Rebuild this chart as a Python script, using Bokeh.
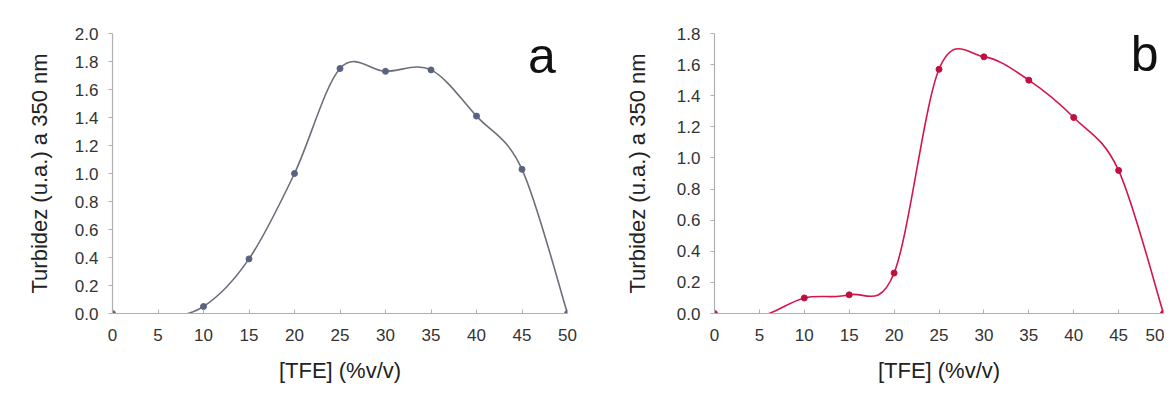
import numpy as np
from bokeh.plotting import figure
from bokeh.layouts import row
from bokeh.models import FixedTicker, PrintfTickFormatter, Label, Range1d
from bokeh.embed import file_html
from bokeh.resources import INLINE

# ---- data ----
tfe = [0, 5, 10, 15, 20, 25, 30, 35, 40, 45, 50]
turb_a = [0.0, -0.03, 0.05, 0.39, 1.00, 1.75, 1.73, 1.74, 1.41, 1.03, 0.0]
turb_b = [0.0, -0.02, 0.10, 0.12, 0.26, 1.57, 1.65, 1.50, 1.26, 0.92, 0.0]
x_ticks = [0, 5, 10, 15, 20, 25, 30, 35, 40, 45, 50]
y_ticks_a = [0.0, 0.2, 0.4, 0.6, 0.8, 1.0, 1.2, 1.4, 1.6, 1.8, 2.0]
y_ticks_b = [0.0, 0.2, 0.4, 0.6, 0.8, 1.0, 1.2, 1.4, 1.6, 1.8]
x_title = "[TFE] (%v/v)"
y_title = "Turbidez (u.a.) a 350 nm"
panel_labels = ["a", "b"]

FONT = "Liberation Sans"


def bezier_segments(xs, ys):
    x = np.asarray(xs, float)
    y = np.asarray(ys, float)
    n = len(x)
    out = {k: [] for k in ("x0", "y0", "x1", "y1", "cx0", "cy0", "cx1", "cy1")}
    for i in range(n - 1):
        im = max(i - 1, 0)
        ip = min(i + 2, n - 1)
        out["x0"].append(x[i]); out["y0"].append(y[i])
        out["x1"].append(x[i + 1]); out["y1"].append(y[i + 1])
        out["cx0"].append(x[i] + (x[i + 1] - x[im]) / 6.0)
        out["cy0"].append(y[i] + (y[i + 1] - y[im]) / 6.0)
        out["cx1"].append(x[i + 1] - (x[ip] - x[i]) / 6.0)
        out["cy1"].append(y[i + 1] - (y[ip] - y[i]) / 6.0)
    return out


def make_panel(ys, yticks, ymax, line_color, marker_color, label, width,
               bl, br, ylab_standoff, lab_x, lab_y):
    p = figure(width=width, height=386, output_backend="svg", toolbar_location=None,
               x_range=Range1d(0, 50), y_range=Range1d(0, ymax),
               min_border_left=bl, min_border_right=br, min_border_top=33,
               min_border_bottom=73)
    p.outline_line_color = None
    p.xgrid.visible = False
    p.ygrid.visible = False
    p.background_fill_color = "white"
    p.border_fill_color = "white"

    seg = bezier_segments(tfe, ys)
    p.bezier(x0=seg["x0"], y0=seg["y0"], x1=seg["x1"], y1=seg["y1"],
             cx0=seg["cx0"], cy0=seg["cy0"], cx1=seg["cx1"], cy1=seg["cy1"],
             line_color=line_color, line_width=1.6)
    p.scatter(tfe, ys, size=6, fill_color=marker_color, line_color=marker_color)

    for ax in (p.xaxis[0], p.yaxis[0]):
        ax.axis_line_color = "#b0b0b0"
        ax.axis_line_width = 1.2
        ax.major_tick_line_color = "#b0b0b0"
        ax.minor_tick_line_color = None
        ax.major_label_text_font = FONT
        ax.major_label_text_font_size = "17px"
        ax.major_label_text_color = "#333333"
        ax.axis_label_text_font = FONT
        ax.axis_label_text_font_size = "22px"
        ax.axis_label_text_font_style = "normal"
        ax.axis_label_text_color = "#222222"

    p.xaxis.ticker = FixedTicker(ticks=x_ticks)
    p.xaxis.major_tick_in = 4
    p.xaxis.major_tick_out = 0
    p.xaxis.major_label_standoff = 15
    p.xaxis.axis_label = x_title
    p.xaxis.axis_label_standoff = 14

    p.yaxis.ticker = FixedTicker(ticks=yticks)
    p.yaxis.formatter = PrintfTickFormatter(format="%.1f")
    p.yaxis.major_tick_in = 0
    p.yaxis.major_tick_out = 4
    p.yaxis.major_label_standoff = 10
    p.yaxis.axis_label = y_title
    p.yaxis.axis_label_standoff = ylab_standoff

    p.add_layout(Label(x=lab_x, y=lab_y, text=label, text_font=FONT,
                       text_font_size="50px", text_color="#111111",
                       text_align="center", text_baseline="alphabetic"))
    return p


pa = make_panel(turb_a, y_ticks_a, 2.0, "#6c6f7c", "#5a6282", panel_labels[0],
                608, 112, 41, 20, 47.2, 1.84)
pb = make_panel(turb_b, y_ticks_b, 1.8, "#d4164c", "#c0103c", panel_labels[1],
                556, 106, 1, 24, 47.9, 1.67)

layout = row(pa, pb)
open("out.html", "w").write(file_html(layout, INLINE))
